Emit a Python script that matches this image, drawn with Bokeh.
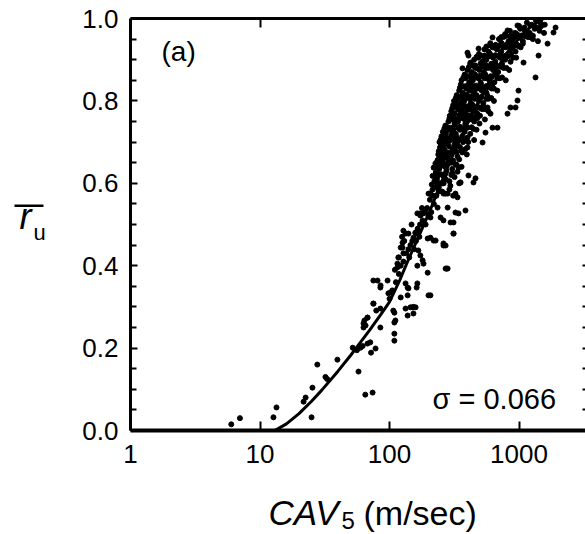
from bokeh.plotting import figure
from bokeh.layouts import row, column
from bokeh.models import (Range1d, FixedTicker, PrintfTickFormatter, LogAxis, LinearAxis,
                          Label, BoxAnnotation)
from bokeh.embed import file_html
from bokeh.resources import INLINE

# ---- data ----
fit_cav = [13, 16, 20, 25, 30, 40, 50, 60, 70, 85, 100, 120, 140, 170, 200, 250, 300,
           400, 500, 650, 800, 1000, 1250, 1550]
fit_ru = [0.0, 0.016, 0.041, 0.071, 0.098, 0.144, 0.182, 0.215, 0.243, 0.28, 0.312, 0.365,
          0.415, 0.475, 0.525, 0.60, 0.66, 0.745, 0.805, 0.87, 0.915, 0.952, 0.982, 1.0]

low_cav = [6.0, 7.0, 13.4, 12.7, 21.7, 22.5, 25, 25.4, 27.7, 32, 33, 39.6, 57.6, 65, 74,
           52, 59.7, 67.6, 72, 78, 62, 56, 65.3, 64, 71, 85, 67.6, 75, 79, 63, 85, 109,
           109, 109, 109, 138, 153]
low_ru = [0.015, 0.03, 0.056, 0.032, 0.07, 0.08, 0.032, 0.104, 0.16, 0.13, 0.125, 0.172,
          0.143, 0.087, 0.092, 0.201, 0.201, 0.211, 0.189, 0.199, 0.205, 0.195, 0.255,
          0.267, 0.214, 0.25, 0.274, 0.308, 0.291, 0.26, 0.296, 0.286, 0.262, 0.235,
          0.218, 0.279, 0.30]

mid_cav = [63, 67.6, 75.2, 80.8, 85.3, 96.6, 102, 107, 111, 115, 117, 126, 128, 133, 138,
           140, 151, 153, 164, 164, 173, 183, 197, 200, 128, 140, 164, 173, 153, 183, 207,
           227, 261, 271, 200, 227, 235, 248, 261, 271, 235, 248, 271, 235, 261, 164]
mid_ru = [0.250, 0.274, 0.308, 0.364, 0.352, 0.364, 0.335, 0.291, 0.267, 0.396, 0.420,
          0.444, 0.430, 0.357, 0.328, 0.345, 0.299, 0.284, 0.400, 0.357, 0.425, 0.405,
          0.383, 0.328, 0.485, 0.478, 0.485, 0.522, 0.468, 0.527, 0.468, 0.461, 0.449,
          0.393, 0.575, 0.607, 0.595, 0.648, 0.663, 0.624, 0.655, 0.697, 0.721, 0.541,
          0.510, 0.527]

mid2_cav = [75, 85, 98, 122, 138, 145, 159, 133, 162, 207, 281, 115, 122, 126, 133, 167,
            180, 164, 197, 219, 261, 173, 207, 248, 296, 312, 207, 235, 281, 323, 341,
            261, 281, 335, 386, 312, 312, 271, 276, 353, 445]
mid2_ru = [0.364, 0.347, 0.333, 0.323, 0.347, 0.299, 0.299, 0.296, 0.347, 0.328, 0.393,
           0.405, 0.444, 0.456, 0.478, 0.437, 0.413, 0.478, 0.466, 0.461, 0.454, 0.527,
           0.517, 0.517, 0.505, 0.478, 0.575, 0.600, 0.575, 0.529, 0.527, 0.575, 0.541,
           0.566, 0.534, 0.505, 0.478, 0.449, 0.393, 0.602, 0.602]

band_cav = [100, 105, 112, 118, 122, 128, 135, 140, 145, 150, 158, 165, 172, 180, 188, 195,
            205, 215, 225, 232, 240, 245, 250, 255, 260, 110, 118, 125, 130, 142, 148, 155,
            160, 170, 178, 190, 200, 210, 220, 230, 240, 255, 265]
band_ru = [0.32, 0.34, 0.36, 0.38, 0.40, 0.41, 0.43, 0.44, 0.45, 0.46, 0.48, 0.49, 0.50,
           0.51, 0.53, 0.54, 0.56, 0.57, 0.59, 0.61, 0.62, 0.64, 0.66, 0.68, 0.70, 0.39,
           0.42, 0.47, 0.46, 0.42, 0.50, 0.44, 0.46, 0.47, 0.54, 0.50, 0.52, 0.53, 0.55,
           0.57, 0.58, 0.60, 0.62]

upper_cav = [
    205, 215, 228, 240, 255, 270, 290, 310,
    212, 236, 262, 295,
    222, 232, 245, 258, 272, 290, 318, 345,
    228, 250, 275, 305, 335,
    230, 242, 255, 268, 285, 305, 330, 360,
    236, 258, 280, 310, 345,
    238, 250, 262, 275, 292, 312, 335, 365, 395,
    245, 265, 288, 315, 350, 385,
    243, 255, 268, 282, 298, 318, 342, 370, 405, 450,
    252, 278, 300, 330, 365, 400,
    258, 272, 288, 305, 325, 350, 380, 420, 470,
    270, 295, 320, 350, 385, 430,
    285, 300, 318, 338, 360, 385, 415, 450, 495, 545,
    292, 315, 345, 375, 410, 455, 500,
    300, 318, 338, 360, 385, 410, 440, 475, 520, 580,
    310, 340, 370, 400, 440, 480, 530,
    315, 335, 355, 378, 400, 425, 455, 490, 530, 580, 640,
    330, 360, 395, 430, 470, 515, 570,
    345, 368, 392, 420, 450, 480, 515, 560, 615, 680,
    355, 390, 425, 465, 510, 560, 620,
    360, 385, 412, 440, 470, 505, 545, 590, 645, 710, 790,
    380, 415, 455, 500, 550, 605, 670,
    400, 430, 462, 495, 535, 580, 630, 690, 760, 840,
    420, 460, 505, 555, 610, 670, 740,
    450, 485, 520, 560, 605, 655, 710, 780, 860, 950,
    490, 540, 595, 655, 720, 790, 870,
    540, 580, 625, 675, 730, 790, 860, 940, 1030,
    600, 660, 730, 800, 880, 970, 1070,
    700, 760, 830, 900, 980, 1070, 1170, 1280, 1400,
    780, 860, 950, 1050, 1160, 1280,
    850, 930, 1020, 1110, 1210, 1320, 1440, 1560,
    1000, 1100, 1220, 1350, 1480,
    1150, 1250, 1350, 1460, 1580,
]
upper_ru = [
    0.575, 0.585, 0.570, 0.590, 0.580, 0.575, 0.585, 0.570,
    0.597, 0.592, 0.600, 0.594,
    0.605, 0.615, 0.600, 0.620, 0.610, 0.605, 0.615, 0.600,
    0.627, 0.622, 0.630, 0.625, 0.628,
    0.640, 0.635, 0.645, 0.640, 0.650, 0.635, 0.645, 0.640,
    0.657, 0.652, 0.660, 0.655, 0.658,
    0.670, 0.665, 0.675, 0.665, 0.670, 0.680, 0.665, 0.675, 0.670,
    0.687, 0.682, 0.690, 0.685, 0.688, 0.683,
    0.700, 0.705, 0.695, 0.700, 0.710, 0.695, 0.705, 0.700, 0.700, 0.705,
    0.714, 0.710, 0.716, 0.712, 0.715, 0.711,
    0.725, 0.720, 0.730, 0.725, 0.720, 0.730, 0.725, 0.720, 0.730,
    0.740, 0.735, 0.742, 0.737, 0.741, 0.736,
    0.750, 0.755, 0.745, 0.750, 0.760, 0.745, 0.755, 0.750, 0.745, 0.755,
    0.764, 0.760, 0.766, 0.762, 0.765, 0.761, 0.764,
    0.775, 0.770, 0.780, 0.775, 0.770, 0.780, 0.775, 0.770, 0.780, 0.775,
    0.790, 0.786, 0.791, 0.787, 0.790, 0.786, 0.789,
    0.800, 0.805, 0.795, 0.800, 0.810, 0.795, 0.805, 0.800, 0.795, 0.805, 0.800,
    0.814, 0.810, 0.815, 0.811, 0.814, 0.810, 0.813,
    0.825, 0.820, 0.830, 0.825, 0.820, 0.830, 0.825, 0.820, 0.830, 0.825,
    0.840, 0.836, 0.841, 0.837, 0.840, 0.836, 0.839,
    0.850, 0.855, 0.845, 0.850, 0.860, 0.845, 0.855, 0.850, 0.845, 0.855, 0.850,
    0.864, 0.860, 0.865, 0.861, 0.864, 0.860, 0.863,
    0.875, 0.870, 0.880, 0.875, 0.870, 0.880, 0.875, 0.870, 0.880, 0.875,
    0.890, 0.886, 0.891, 0.887, 0.890, 0.886, 0.889,
    0.900, 0.905, 0.895, 0.900, 0.910, 0.895, 0.905, 0.900, 0.895, 0.905,
    0.914, 0.910, 0.915, 0.911, 0.914, 0.910, 0.913,
    0.925, 0.920, 0.930, 0.925, 0.920, 0.930, 0.925, 0.920, 0.930,
    0.940, 0.936, 0.941, 0.937, 0.940, 0.936, 0.939,
    0.950, 0.955, 0.945, 0.950, 0.960, 0.945, 0.955, 0.950, 0.945,
    0.962, 0.958, 0.963, 0.959, 0.962, 0.958,
    0.970, 0.965, 0.975, 0.970, 0.965, 0.975, 0.970, 0.965,
    0.982, 0.978, 0.983, 0.979, 0.981,
    0.990, 0.985, 0.995, 0.990, 0.985,
]

core_cav = [
    215, 238, 264, 300,
    226, 248, 272, 298, 322,
    240, 258, 282, 305, 330, 358,
    248, 262, 290, 310, 335, 360, 390,
    265, 280, 312, 340, 368, 400, 445,
    290, 310, 330, 355, 380, 405, 435, 475,
    305, 330, 350, 375, 400, 425, 460, 500, 550,
    325, 345, 370, 392, 415, 440, 470, 505, 560, 610,
    350, 375, 405, 435, 465, 495, 530, 580, 640,
    372, 400, 428, 455, 485, 520, 565, 615, 680, 740,
    410, 445, 478, 515, 555, 600, 650, 720, 800,
    470, 505, 540, 580, 630, 685, 740, 820, 900,
    560, 600, 650, 700, 760, 825, 900, 985,
    730, 795, 865, 940, 1020, 1120, 1230,
]
core_ru = [
    0.618, 0.622, 0.615, 0.620,
    0.648, 0.652, 0.645, 0.650, 0.646,
    0.678, 0.682, 0.675, 0.680, 0.676, 0.679,
    0.706, 0.709, 0.703, 0.707, 0.704, 0.708, 0.705,
    0.733, 0.736, 0.730, 0.734, 0.731, 0.735, 0.732,
    0.757, 0.760, 0.754, 0.758, 0.755, 0.759, 0.756, 0.758,
    0.782, 0.785, 0.779, 0.783, 0.780, 0.784, 0.781, 0.783, 0.780,
    0.807, 0.810, 0.804, 0.808, 0.805, 0.809, 0.806, 0.808, 0.805, 0.807,
    0.832, 0.835, 0.829, 0.833, 0.830, 0.834, 0.831, 0.833, 0.830,
    0.857, 0.860, 0.854, 0.858, 0.855, 0.859, 0.856, 0.858, 0.855, 0.857,
    0.882, 0.885, 0.879, 0.883, 0.880, 0.884, 0.881, 0.883, 0.880,
    0.907, 0.910, 0.904, 0.908, 0.905, 0.909, 0.906, 0.908, 0.905,
    0.932, 0.935, 0.929, 0.933, 0.930, 0.934, 0.931, 0.933,
    0.955, 0.958, 0.952, 0.956, 0.953, 0.957, 0.954,
]

out_cav = [400, 366, 487, 815, 624, 973, 1390, 1914, 1846, 1661, 1415, 1083, 1341, 991, 973,
           859, 940, 815, 571, 602, 624, 682, 551, 523, 400, 341, 407, 461, 353, 261, 255,
           235, 219, 323, 207, 407, 422, 353, 323]
out_ru = [0.917, 0.879, 0.927, 0.971, 0.954, 0.983, 0.976, 0.978, 0.966, 0.939, 0.910,
          0.893, 0.857, 0.825, 0.801, 0.784, 0.784, 0.769, 0.784, 0.769, 0.735, 0.735,
          0.723, 0.699, 0.687, 0.638, 0.619, 0.612, 0.602, 0.704, 0.687, 0.655, 0.638,
          0.575, 0.575, 0.910, 0.893, 0.833, 0.796]

x_ticks = [1, 10, 100, 1000]
y_ticks = [0.0, 0.2, 0.4, 0.6, 0.8, 1.0]
y_minor = [0.05, 0.1, 0.15, 0.25, 0.3, 0.35, 0.45, 0.5, 0.55, 0.65, 0.7, 0.75, 0.85, 0.9, 0.95]
y_right = [0.05, 0.1, 0.15, 0.2, 0.25, 0.3, 0.35, 0.4, 0.45, 0.5, 0.55, 0.6, 0.65, 0.7, 0.75,
           0.8, 0.85, 0.9, 0.95]

all_cav = low_cav + mid_cav + mid2_cav + band_cav + upper_cav + core_cav + out_cav
all_ru = low_ru + mid_ru + mid2_ru + band_ru + upper_ru + core_ru + out_ru
assert len(all_cav) == len(all_ru)

FONT = "Liberation Sans"
W, H = 585, 534
LW = 60          # width of the y-label strip
BH = 40          # height of the x-label strip
MH = H - BH      # height of the main plot

def blank(width, height):
    f = figure(width=width, height=height, x_range=Range1d(0, width),
               y_range=Range1d(0, height), output_backend="svg", toolbar_location=None,
               x_axis_location=None, y_axis_location=None, min_border=0, title=None)
    f.outline_line_color = None
    f.grid.visible = False
    return f

p = figure(width=W - LW, height=MH, x_axis_type="log", x_range=Range1d(1, 3260),
           y_range=Range1d(0, 1), output_backend="svg", toolbar_location=None,
           min_border_left=130 - LW, min_border_right=0, min_border_top=18,
           min_border_bottom=MH - 430)
p.outline_line_color = None
p.grid.visible = False

xa = p.xaxis[0]
xa.ticker = FixedTicker(ticks=x_ticks, minor_ticks=[])
xa.formatter = PrintfTickFormatter(format="%d")
xa.axis_line_width = 4
xa.major_tick_in = 9
xa.major_tick_out = 0
xa.major_tick_line_width = 2
xa.minor_tick_in = 0
xa.minor_tick_out = 0
xa.major_label_standoff = 14
xa.major_label_text_font = FONT
xa.major_label_text_font_size = "26px"
xa.major_label_text_color = "black"

ya = p.yaxis[0]
ya.ticker = FixedTicker(ticks=y_ticks, minor_ticks=y_minor)
ya.formatter = PrintfTickFormatter(format="%.1f")
ya.axis_line_width = 3
ya.major_tick_in = 7
ya.major_tick_out = 0
ya.minor_tick_in = 6
ya.minor_tick_out = 0
ya.major_tick_line_width = 2
ya.minor_tick_line_width = 2
ya.major_label_standoff = 12
ya.major_label_text_font = FONT
ya.major_label_text_font_size = "26px"
ya.major_label_text_color = "black"

top = LogAxis(ticker=FixedTicker(ticks=[10, 100], minor_ticks=[]), axis_line_width=3,
              major_tick_in=9, major_tick_out=0, major_tick_line_width=2,
              minor_tick_in=0, minor_tick_out=0,
              major_label_text_font_size="1px", major_label_text_color=None,
              major_label_standoff=0)
p.add_layout(top, "above")

right = LinearAxis(ticker=FixedTicker(ticks=y_right, minor_ticks=[]), axis_line_color=None,
                   major_tick_in=3, major_tick_out=0, major_tick_line_width=2,
                   minor_tick_in=0, minor_tick_out=0,
                   major_label_text_font_size="1px", major_label_text_color=None,
                   major_label_standoff=0)
p.add_layout(right, "right")

p.scatter(all_cav, all_ru, size=5, color="black", marker="circle")
p.line(fit_cav, fit_ru, line_width=3, color="black")

# in-frame annotations: screen units from the frame's bottom-left corner
FX, FY = 130, 430

def inlab(text, X, Y, size, style="normal"):
    p.add_layout(Label(x=X - FX, y=FY - Y, x_units="screen", y_units="screen", text=text,
                       text_font=FONT, text_font_size=size, text_font_style=style,
                       text_color="black", text_baseline="alphabetic", text_align="left"))

inlab("(a)", 161, 51, "28px")
inlab("σ = 0.066", 432, 398, "29px")

# y-axis label strip (data units = pixels, origin bottom-left)
yl = blank(LW, MH)

def ylab(text, X, Y, size, style="normal"):
    yl.add_layout(Label(x=X, y=MH - Y, text=text, text_font=FONT, text_font_size=size,
                        text_font_style=style, text_color="black",
                        text_baseline="alphabetic", text_align="left"))

ylab("r", 19, 238, "36px", "italic")
ylab("u", 33, 256, "22px")
yl.add_layout(BoxAnnotation(left=14, right=43, top=MH - 223, bottom=MH - 226,
                            fill_color="black", fill_alpha=1, line_color=None))

# x-axis label strip
xl = blank(W, BH)

def xlab(text, X, Y, size, style="normal"):
    xl.add_layout(Label(x=X, y=H - Y, text=text, text_font=FONT, text_font_size=size,
                        text_font_style=style, text_color="black",
                        text_baseline="alphabetic", text_align="left"))

xlab("CAV", 268, 512, "35px", "italic")
xlab("5", 341, 520, "24px")
xlab("(m/sec)", 363, 512, "34px")

layout = column(row(yl, p, spacing=0), xl, spacing=0)
open("out.html", "w").write(file_html(layout, INLINE))
